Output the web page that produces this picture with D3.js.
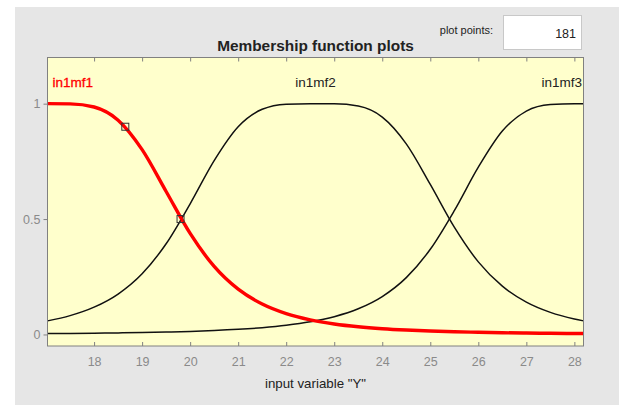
<!DOCTYPE html>
<html><head><meta charset="utf-8">
<script src="https://cdn.jsdelivr.net/npm/d3@7"></script>
<style>
html,body{margin:0;padding:0;background:#fff;}
svg{display:block;}
text{font-family:"Liberation Sans",Arial,Helvetica,sans-serif;}
</style></head>
<body>
<svg id="c" width="619" height="405"></svg>
<script>
// ---- data ----
const xRange = [17.03, 28.19];
const yRange = [-0.05, 1.2];
const xTicks = [18,19,20,21,22,23,24,25,26,27,28];
const yTicks = [0, 0.5, 1];
const yTickLabels = ["0", "0.5", "1"];
const mfNames = ["in1mf1", "in1mf2", "in1mf3"];
const xs = [17.03,17.5,18,18.5,19,19.5,20,20.5,21,21.5,22,22.5,23,23.5,24,24.5,25,25.5,26,26.5,27,27.5,28,28.19];
const mf1 = [1,0.9992,0.9856,0.9284,0.8009,0.6195,0.4378,0.2947,0.1961,0.1318,0.0903,0.0634,0.0455,0.0334,0.0250,0.0191,0.0148,0.0116,0.0093,0.0075,0.0061,0.0050,0.0042,0.0039];
const mf2 = [0.0588,0.0816,0.1183,0.1752,0.2630,0.3931,0.5663,0.7535,0.9002,0.9756,0.9977,1.0,0.9996,0.9897,0.9420,0.8260,0.6500,0.4648,0.3145,0.2092,0.1402,0.0958,0.0670,0.0588];
const mf3 = [0.0039,0.0046,0.0056,0.0068,0.0084,0.0105,0.0133,0.0170,0.0222,0.0294,0.0396,0.0546,0.0771,0.1113,0.1643,0.2463,0.3691,0.5364,0.7248,0.8814,0.9680,0.9963,1.0,1.0];
const handleX = [18.65, 19.8];
const handleY = [0.9, 0.5];
const mfLabelX = [17.03, 22.61, 28.19];
const plotPoints = "181";

// ---- drawing ----
const svg = d3.select("#c");
const L = 47.5, R = 583.5, T = 57.5, B = 346;
const x = d3.scaleLinear().domain(xRange).range([L, R]);
const y = d3.scaleLinear().domain(yRange).range([B, T]);

svg.append("rect").attr("x",15).attr("y",7).attr("width",604).attr("height",398).attr("fill","#e6e6e6");

// plot points control
svg.append("text").attr("x",493).attr("y",34).attr("text-anchor","end")
  .attr("font-size",11).attr("fill","#222").text("plot points:");
svg.append("rect").attr("x",503.5).attr("y",15.5).attr("width",78).attr("height",34)
  .attr("fill","#fff").attr("stroke","#c8c8c8");
svg.append("text").attr("x",576).attr("y",38).attr("text-anchor","end")
  .attr("font-size",12.5).attr("fill","#222").text(plotPoints);

// title
svg.append("text").attr("x",(L+R)/2).attr("y",51).attr("text-anchor","middle")
  .attr("font-size",15.4).attr("font-weight","bold").attr("fill","#222").text("Membership function plots");

// plot background
svg.append("rect").attr("x",L).attr("y",T).attr("width",R-L).attr("height",B-T).attr("fill","#ffffcc");

const gx = svg.append("g").attr("transform",`translate(0,${B})`)
  .call(d3.axisBottom(x).tickValues(xTicks).tickSize(-4).tickPadding(11).tickFormat(d3.format("d")));
const gt = svg.append("g").attr("transform",`translate(0,${T})`)
  .call(d3.axisTop(x).tickValues(xTicks).tickSize(-4).tickFormat(""));
const gy = svg.append("g").attr("transform",`translate(${L},0)`)
  .call(d3.axisLeft(y).tickValues(yTicks).tickSize(4).tickPadding(3).tickFormat((d,i)=>yTickLabels[i]));
[gx,gt,gy].forEach(g=>{
  g.select(".domain").remove();
  g.selectAll(".tick line").attr("stroke","#808080");
  g.selectAll(".tick text").attr("fill","#8a8a8a").attr("font-size",12.5)
    .attr("font-family","'Liberation Sans',Arial,sans-serif");
});

// curves
const line = d3.line().x((d,i)=>x(xs[i])).y(d=>y(d)).curve(d3.curveMonotoneX);
const clip = svg.append("clipPath").attr("id","pc").append("rect")
  .attr("x",L).attr("y",T).attr("width",R-L).attr("height",B-T);
const cg = svg.append("g").attr("clip-path","url(#pc)");
cg.append("path").datum(mf2).attr("d",line).attr("fill","none").attr("stroke","#111").attr("stroke-width",1.5);
cg.append("path").datum(mf3).attr("d",line).attr("fill","none").attr("stroke","#111").attr("stroke-width",1.5);
cg.append("path").datum(mf1).attr("d",line).attr("fill","none").attr("stroke","#ff0000").attr("stroke-width",3.4);

// handles
cg.selectAll("rect.h").data(handleX).enter().append("rect").attr("class","h")
  .attr("x",(d)=>x(d)-3.5).attr("y",(d,i)=>y(handleY[i])-3.5).attr("width",7).attr("height",7)
  .attr("fill","none").attr("stroke","#333").attr("stroke-width",1);

// frame
svg.append("rect").attr("x",L).attr("y",T).attr("width",R-L).attr("height",B-T)
  .attr("fill","none").attr("stroke","#808080").attr("stroke-width",1);

// mf labels
svg.append("text").attr("x",x(mfLabelX[0])+5).attr("y",87).attr("font-size",13.5)
  .attr("fill","#ff0000").attr("stroke","#ff0000").attr("stroke-width",0.3).text(mfNames[0]);
svg.append("text").attr("x",x(mfLabelX[1])).attr("y",87).attr("text-anchor","middle").attr("font-size",13.5)
  .attr("fill","#222").text(mfNames[1]);
svg.append("text").attr("x",x(mfLabelX[2])-1.5).attr("y",87).attr("text-anchor","end").attr("font-size",13.5)
  .attr("fill","#222").text(mfNames[2]);

// x label
svg.append("text").attr("x",(L+R)/2).attr("y",388).attr("text-anchor","middle").attr("font-size",13.3)
  .attr("fill","#222").text('input variable "Y"');
</script>
</body></html>
